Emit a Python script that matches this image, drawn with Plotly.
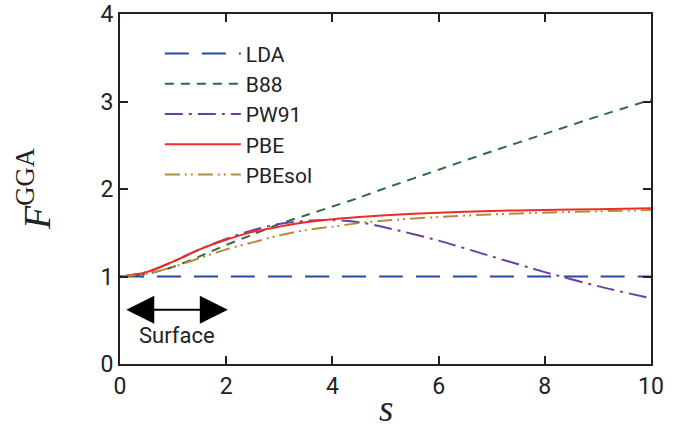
import plotly.graph_objects as go

s_vals = [0, 0.5, 1, 1.5, 2, 2.5, 3, 3.5, 4, 4.5, 5, 6, 7, 8, 9, 10]
lda = [1.0] * 16
b88 = [1.0, 1.03, 1.11, 1.23, 1.36, 1.48, 1.60, 1.70, 1.80, 1.90, 2.01, 2.22, 2.43, 2.63, 2.83, 3.02]
pw91 = [1.0, 1.05, 1.17, 1.31, 1.43, 1.53, 1.60, 1.635, 1.645, 1.62, 1.56, 1.41, 1.23, 1.05, 0.89, 0.75]
pbe = [1.0, 1.05, 1.17, 1.31, 1.42, 1.51, 1.57, 1.62, 1.655, 1.68, 1.70, 1.73, 1.75, 1.76, 1.77, 1.78]
pbesol = [1.0, 1.03, 1.11, 1.21, 1.31, 1.39, 1.47, 1.53, 1.57, 1.61, 1.64, 1.68, 1.71, 1.73, 1.745, 1.76]

names = ["LDA", "B88", "PW91", "PBE", "PBEsol"]
colors = ["#2448a6", "#2f6b3c", "#6b3fa3", "#ee2b2b", "#b8893b"]
dashes = ["24px,13px", "9px,7px", "18px,6px,3px,6px", "solid", "15px,5px,2px,4px,2px,5px"]
series = [lda, b88, pw91, pbe, pbesol]

fig = go.Figure()
for name, col, dsh, ys in zip(names, colors, dashes, series):
    fig.add_trace(go.Scatter(
        x=s_vals, y=ys, mode="lines", name=name,
        line=dict(color=col, width=2, dash=dsh, shape="spline", smoothing=0.8),
    ))

sans = "Roboto, sans-serif"
serif = "Liberation Serif, DejaVu Serif, serif"
tick_font = dict(family=sans, size=23, color="#222")
axis_common = dict(
    showline=True, linecolor="#222", linewidth=2, mirror="ticks",
    ticks="inside", ticklen=8, tickwidth=2, tickcolor="#222",
    showgrid=False, zeroline=False, tickfont=tick_font, automargin=False,
)

fig.update_xaxes(range=[0, 10], tickvals=[0, 2, 4, 6, 8, 10], **axis_common)
fig.update_yaxes(range=[0, 4], tickvals=[0, 1, 2, 3, 4], **axis_common)

# Axis titles
fig.add_annotation(x=-0.162, y=0.503, xref="paper", yref="paper", showarrow=False,
                   text="<i>F</i><sup>GGA</sup>", textangle=-90,
                   xanchor="center", yanchor="middle",
                   font=dict(family=serif, size=38, color="#222"))
fig.add_annotation(x=0.5, y=-0.128, xref="paper", yref="paper", showarrow=False,
                   text="<i>s</i>", xanchor="center", yanchor="middle",
                   font=dict(family=serif, size=37, color="#222"))

# Surface double arrow
fig.add_annotation(x=2.03, y=0.62, ax=0.09, ay=0.62, xref="x", yref="y", axref="x", ayref="y",
                   showarrow=True, arrowhead=2, startarrowhead=2, arrowside="end+start",
                   arrowsize=2.8, startarrowsize=2.8, arrowwidth=2, arrowcolor="black", text="")
fig.add_annotation(x=1.07, y=0.33, xref="x", yref="y", text="Surface", showarrow=False,
                   font=dict(family=sans, size=22, color="#222"))

fig.update_layout(
    width=689, height=428,
    margin=dict(l=120, r=38, t=14, b=64, autoexpand=False),
    paper_bgcolor="white", plot_bgcolor="white",
    legend=dict(x=0.075, y=0.945, xanchor="left", yanchor="top",
                font=dict(family=sans, size=21, color="#222"),
                itemwidth=76, bgcolor="rgba(0,0,0,0)", tracegroupgap=0),
    showlegend=True,
)

fig.write_html("out.html", config={"displayModeBar": False},
               post_script="document.body.style.margin='0px';")
